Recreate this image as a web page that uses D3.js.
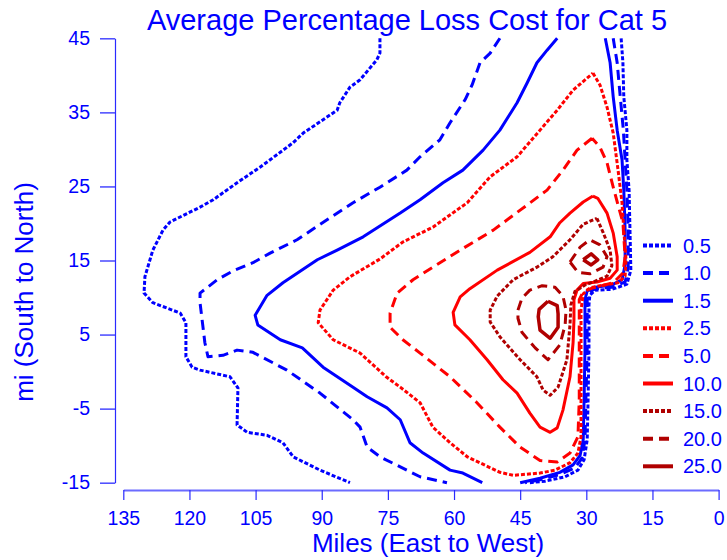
<!DOCTYPE html>
<html>
<head>
<meta charset="utf-8">
<script src="https://cdn.jsdelivr.net/npm/d3@7"></script>
<style>
  body { margin: 0; background: #fff; }
  svg { display: block; font-family: "Liberation Sans", Arial, sans-serif; }
</style>
</head>
<body>
<svg id="chart" width="727" height="560"></svg>
<script>
// ---------- data (miles E-W, miles S-N) ----------
const xTicks = [135, 120, 105, 90, 75, 60, 45, 30, 15, 0];
const yTicks = [-15, -5, 5, 15, 25, 35, 45];
const levelLabels = ["0.5", "1.0", "1.5", "2.5", "5.0", "10.0", "15.0", "20.0", "25.0"];

// each level: list of polylines [x, y]
const c05 = [
  [[76.8,45.0],[76.8,43.0],[77.5,42.1],[81.3,39.4],[83.6,38.4],[85.9,36.3],[86.5,35.3],[94.2,32.2],[96.5,30.9],[101.7,28.6],[104.0,27.6],[109.2,25.5],[114.6,23.2],[117.6,22.2],[124.4,20.2],[126.0,19.1],[128.3,16.4],[130.1,12.8],[130.3,10.6],[128.3,9.3],[122.1,7.9],[120.8,6.6],[120.8,2.0],[119.4,0.6],[117.6,0.2],[110.8,-0.7],[109.0,-2.2],[109.2,-7.2],[106.9,-8.2],[102.4,-8.6],[98.8,-9.6],[96.5,-11.5],[90.4,-13.3],[83.6,-15.0]],
  [[22.1,45.0],[21.7,41.7],[21.5,37.1],[20.8,32.6],[20.8,28.6],[20.3,24.5],[20.1,19.1],[19.9,13.7],[20.8,11.8],[24.2,11.1],[28.0,11.0],[29.2,10.3],[29.4,9.0],[29.4,2.9],[29.6,-3.8],[29.8,-9.2],[30.5,-11.9],[31.9,-13.3],[34.8,-14.2],[39.4,-14.8],[42.8,-15.0]]
];
const c10 = [
  [[49.6,45.0],[51.8,43.0],[54.1,41.7],[55.9,38.7],[57.5,36.7],[60.9,33.6],[63.2,31.3],[67.7,29.0],[70.7,27.2],[76.8,24.9],[82.9,22.8],[88.8,20.5],[95.6,17.8],[101.7,16.0],[105.6,14.7],[110.1,13.6],[113.7,12.4],[117.6,10.6],[117.6,9.3],[116.5,3.9],[115.8,2.0],[112.4,2.2],[109.2,2.9],[105.6,2.6],[97.9,0.2],[90.4,-2.9],[82.9,-6.5],[81.3,-7.5],[79.7,-10.2],[76.8,-11.5],[67.7,-14.2],[61.6,-15.0]],
  [[23.9,45.0],[23.0,41.7],[22.3,37.1],[21.6,32.6],[21.2,28.6],[20.8,24.5],[20.5,19.1],[20.5,14.0],[21.2,12.1],[24.2,11.4],[28.0,11.2],[29.6,10.6],[29.8,9.7],[29.8,2.9],[30.1,-3.8],[30.3,-9.2],[31.0,-11.7],[32.6,-13.0],[36.0,-13.9],[40.5,-14.6],[43.9,-15.0]]
];
const c15 = [
  [[36.6,45.0],[38.9,43.4],[41.2,41.7],[43.4,39.0],[45.7,36.3],[49.6,32.6],[53.4,29.9],[58.0,27.2],[62.5,25.5],[67.7,23.2],[72.2,21.4],[80.6,18.2],[86.5,16.4],[91.0,15.1],[98.8,12.0],[102.4,10.3],[105.1,7.6],[104.5,6.3],[99.4,4.3],[94.4,3.2],[89.7,0.6],[82.9,-2.1],[79.7,-3.4],[75.2,-4.9],[72.2,-6.5],[70.0,-9.6],[67.0,-11.0],[60.9,-13.3],[58.0,-13.7],[53.6,-15.0]],
  [[25.7,45.0],[24.6,41.7],[23.9,37.1],[23.0,32.6],[21.9,28.6],[21.5,24.5],[21.2,19.1],[21.2,14.4],[21.9,12.4],[24.2,11.7],[28.0,11.4],[29.8,10.9],[30.3,9.7],[30.3,2.9],[30.5,-3.8],[30.7,-9.2],[31.4,-11.3],[33.0,-12.6],[36.0,-13.6],[40.5,-14.4],[45.0,-15.0]]
];
const c25 = [
  [[28.5,40.3],[26.9,38.7],[25.3,35.7],[23.9,32.2],[22.8,27.2],[21.9,22.8],[21.5,19.1],[21.0,15.1],[21.2,12.9],[22.8,12.0],[26.9,11.6],[29.2,11.3],[30.7,10.5],[31.2,8.3],[31.2,-3.8],[31.2,-8.8],[31.9,-11.0],[33.7,-12.3],[37.1,-13.3],[40.5,-13.7],[46.6,-14.0],[49.6,-13.6],[57.0,-11.5],[60.9,-9.6],[64.8,-7.5],[67.7,-4.2],[72.2,-2.1],[75.4,-0.7],[81.3,2.5],[87.4,4.3],[90.8,6.6],[90.4,8.3],[87.4,11.0],[83.6,12.8],[76.8,15.2],[71.6,17.5],[64.8,19.5],[57.0,22.8],[51.8,26.3],[45.7,29.0],[40.5,32.6],[36.6,35.3],[33.0,38.0],[28.5,40.3]]
];
const c50 = [
  [[28.7,31.5],[32.1,29.9],[35.3,27.2],[38.9,24.5],[45.0,21.8],[51.1,19.1],[58.6,16.4],[64.8,14.1],[69.3,12.4],[72.9,10.6],[74.5,7.9],[74.5,6.0],[71.6,4.3],[67.7,2.5],[60.9,-0.7],[54.8,-4.2],[49.6,-7.5],[45.0,-10.2],[40.5,-12.0],[36.6,-12.2],[33.7,-11.0],[31.9,-8.8],[31.6,-3.8],[31.6,9.7],[30.7,10.8],[28.5,11.3],[23.9,12.0],[21.7,13.3],[21.2,15.5],[21.7,20.1],[22.8,22.5],[23.9,24.9],[25.3,28.2],[26.9,30.3],[28.7,31.5]]
];
const c100 = [
  [[28.5,23.7],[27.4,23.4],[25.3,21.4],[23.9,18.7],[23.0,15.5],[23.0,13.7],[24.6,12.6],[27.6,12.1],[30.7,11.9],[32.1,11.0],[32.8,9.7],[32.8,7.0],[33.0,3.9],[33.7,-0.7],[35.3,-5.2],[36.6,-7.6],[38.2,-8.2],[40.5,-7.5],[42.8,-5.6],[45.7,-2.9],[48.9,-1.1],[52.5,1.6],[56.4,4.3],[59.8,6.3],[60.2,8.0],[58.6,10.1],[56.4,11.2],[50.2,13.7],[42.8,16.1],[38.2,18.2],[36.0,20.1],[33.7,21.4],[30.7,22.9],[28.5,23.7]]
];
const c150 = [
  [[27.6,20.7],[26.2,18.8],[24.6,16.4],[24.2,14.3],[25.3,12.9],[28.0,12.2],[30.3,11.7],[32.6,10.8],[33.5,9.0],[33.7,6.3],[34.4,1.6],[36.4,-2.1],[38.2,-3.2],[39.8,-2.5],[41.2,-0.7],[45.0,1.6],[49.6,4.7],[51.8,6.7],[51.8,8.3],[50.2,10.2],[46.6,12.4],[41.2,14.1],[37.6,15.5],[33.7,17.8],[30.7,19.9],[27.6,20.7]]
];
const c200 = [
  [[33.7,14.8],[31.4,16.8],[29.2,17.8],[26.9,17.1],[25.3,15.5],[26.2,14.1],[29.2,13.2],[31.9,13.4],[33.7,14.8]],
  [[45.5,8.3],[44.6,9.9],[42.8,11.0],[40.0,11.6],[37.1,11.4],[35.3,10.2],[34.6,8.3],[34.8,6.3],[36.0,3.6],[38.7,1.6],[41.6,3.2],[44.6,5.3],[45.5,7.2],[45.5,8.3]]
];
const c250 = [
  [[30.7,15.1],[28.9,15.9],[27.4,15.1],[28.9,14.4],[30.7,15.1]],
  [[38.7,9.5],[36.6,8.9],[36.4,7.8],[36.4,6.0],[38.2,4.5],[40.5,5.6],[40.9,7.4],[40.7,8.4],[38.7,9.5]]
];
const contourSets = [c05, c10, c15, c25, c50, c100, c150, c200, c250];

// ---------- styles ----------
const BLUE = "#0000ff", RED = "#ff0000", DRED = "#b00000";
const styles = [
  { color: BLUE, dash: "4,2" },
  { color: BLUE, dash: "10,6" },
  { color: BLUE, dash: null },
  { color: RED, dash: "4,2" },
  { color: RED, dash: "10,6" },
  { color: RED, dash: null },
  { color: DRED, dash: "4,2" },
  { color: DRED, dash: "10,6" },
  { color: DRED, dash: null }
];

const svg = d3.select("#chart");
const x = d3.scaleLinear().domain([135, 0]).range([123.3, 718.6]);
const y = d3.scaleLinear().domain([-15, 45]).range([482.7, 38.3]);
const fmt = d => String(d);

// title
svg.append("text").attr("x", 407).attr("y", 30).attr("text-anchor", "middle")
  .attr("font-size", 29).attr("fill", BLUE).text("Average Percentage Loss Cost for Cat 5");

// y axis
const yAxis = svg.append("g").attr("transform", "translate(115,0)")
  .call(d3.axisLeft(y).tickValues(yTicks).tickFormat(fmt).tickSize(15).tickSizeOuter(0).tickPadding(10));
yAxis.select(".domain").attr("stroke", "#2a2aff").attr("stroke-width", 1.2);
yAxis.selectAll(".tick line").attr("stroke", "#4848ff").attr("stroke-width", 1.5);
yAxis.selectAll(".tick text").attr("fill", BLUE).attr("font-size", 19.5)
  .attr("font-family", "Liberation Sans, Arial, sans-serif");

// x axis
const xAxis = svg.append("g").attr("transform", "translate(0,490)")
  .call(d3.axisBottom(x).tickValues(xTicks).tickFormat(fmt).tickSize(10).tickSizeOuter(0).tickPadding(11));
xAxis.select(".domain").attr("stroke", "#6b6bff").attr("stroke-width", 2);
xAxis.selectAll(".tick line").attr("stroke", "#2a2aff").attr("stroke-width", 1.2);
xAxis.selectAll(".tick text").attr("fill", BLUE).attr("font-size", 19.5)
  .attr("font-family", "Liberation Sans, Arial, sans-serif");

// axis titles
svg.append("text").attr("x", 428).attr("y", 552).attr("text-anchor", "middle")
  .attr("font-size", 26).attr("fill", BLUE).text("Miles (East to West)");
svg.append("text").attr("transform", "translate(33,292) rotate(-90)").attr("text-anchor", "middle")
  .attr("font-size", 26).attr("fill", BLUE).text("mi (South to North)");

// contours
const line = d3.line().x(d => x(d[0])).y(d => y(d[1]));
const g = svg.append("g");
contourSets.forEach((set, i) => {
  const st = styles[i];
  set.forEach(poly => {
    g.append("path").attr("d", line(poly))
      .attr("fill", "none").attr("stroke", st.color)
      .attr("stroke-width", i === 8 ? 3.5 : 3)
      .attr("stroke-linejoin", "round")
      .attr("stroke-dasharray", st.dash);
  });
});

// legend
const legend = svg.append("g");
levelLabels.forEach((lab, i) => {
  const ly = 245.5 + i * 27.6;
  const st = styles[i];
  legend.append("line").attr("x1", 643).attr("x2", 673).attr("y1", ly).attr("y2", ly)
    .attr("stroke", st.color).attr("stroke-width", 4).attr("stroke-dasharray", st.dash);
  legend.append("text").attr("x", 683).attr("y", ly + 7).attr("font-size", 20)
    .attr("fill", BLUE).text(lab);
});
</script>
</body>
</html>
